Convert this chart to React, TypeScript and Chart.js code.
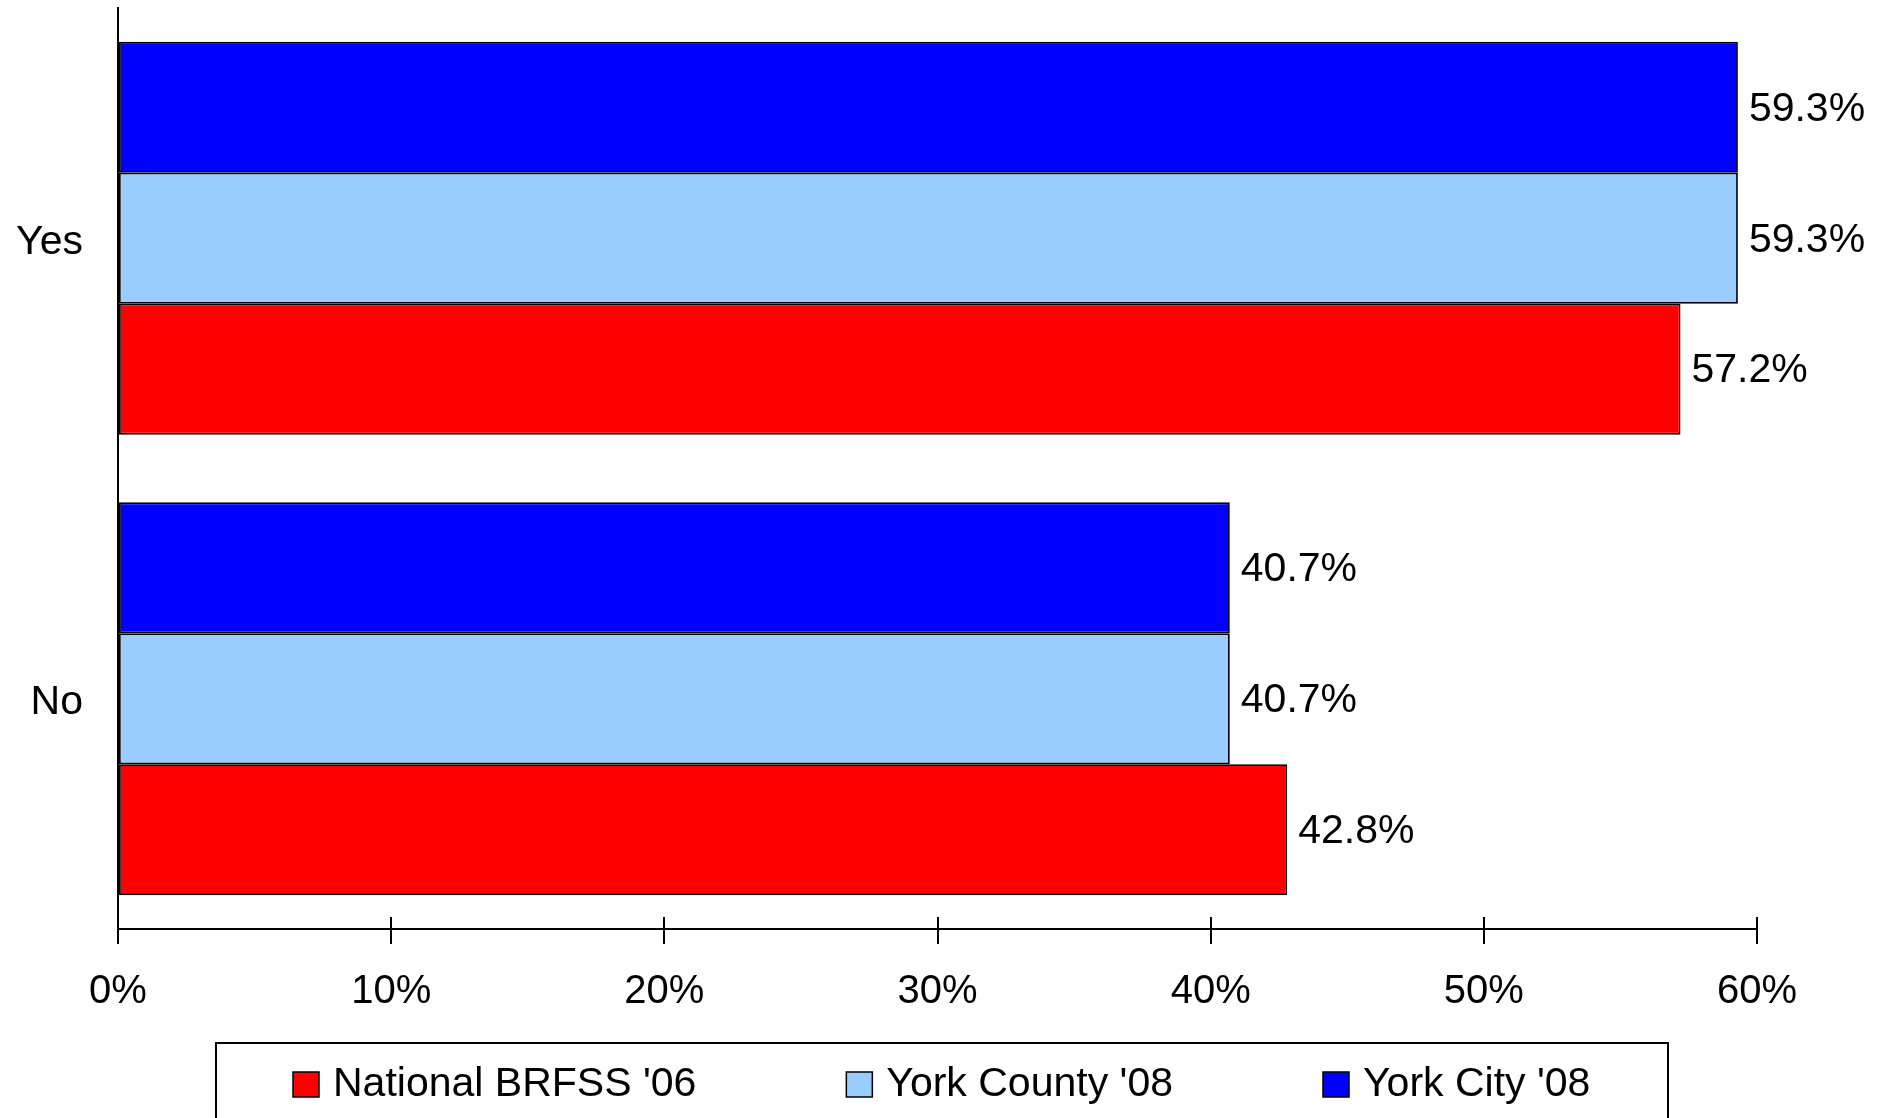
import { useEffect, useRef } from "react";
import { Chart, registerables } from "chart.js";

Chart.register(...registerables);

const categories = ["Yes", "No"];
const seriesNames = ["York City '08", "York County '08", "National BRFSS '06"];
const yorkCityValues = [59.3, 40.7];
const yorkCountyValues = [59.3, 40.7];
const nationalValues = [57.2, 42.8];
const seriesColors = ["#0000FF", "#99CCFF", "#FF0000"];
const legendOrder = [2, 1, 0];
const xMin = 0;
const xMax = 60;
const xStep = 10;

const FONT = "'Liberation Sans', Arial, sans-serif";

const valueLabelPlugin = {
  id: "valueLabels",
  afterDatasetsDraw(chart: any) {
    const ctx = chart.ctx;
    ctx.save();
    ctx.font = `41px ${FONT}`;
    ctx.fillStyle = "#000";
    ctx.textAlign = "left";
    ctx.textBaseline = "middle";
    chart.data.datasets.forEach((ds: any, di: number) => {
      const meta = chart.getDatasetMeta(di);
      meta.data.forEach((el: any, i: number) => {
        const v = ds.data[i] as number;
        ctx.fillText(v.toFixed(1) + "%", el.x + 11, el.y + 2);
      });
    });
    ctx.restore();
  },
};

const crossTickPlugin = {
  id: "crossTicks",
  afterDraw(chart: any) {
    const ctx = chart.ctx;
    const xs = chart.scales.x;
    const yBottom = chart.chartArea.bottom;
    ctx.save();
    ctx.strokeStyle = "#000";
    ctx.lineWidth = 2;
    xs.ticks.forEach((t: any) => {
      const px = Math.round(xs.getPixelForValue(t.value));
      ctx.beginPath();
      ctx.moveTo(px, yBottom);
      ctx.lineTo(px, yBottom - 12);
      ctx.stroke();
    });
    ctx.restore();
  },
};

const legendPlugin = {
  id: "boxLegend",
  afterDraw(chart: any) {
    const ctx = chart.ctx;
    ctx.save();
    ctx.strokeStyle = "#000";
    ctx.lineWidth = 2;
    ctx.strokeRect(216, 1043, 1452, 120);
    ctx.font = `41px ${FONT}`;
    ctx.textBaseline = "middle";
    ctx.textAlign = "left";
    let x = 293;
    legendOrder.forEach((di) => {
      const ds = chart.data.datasets[di];
      ctx.fillStyle = ds.backgroundColor;
      ctx.fillRect(x, 1072, 26, 25);
      ctx.lineWidth = 1.5;
      ctx.strokeRect(x, 1072, 26, 25);
      ctx.fillStyle = "#000";
      const label = ds.label as string;
      ctx.fillText(label, x + 40, 1085);
      x += 40 + ctx.measureText(label).width + 150;
    });
    ctx.restore();
  },
};

export default function App() {
  const ref = useRef<HTMLCanvasElement | null>(null);

  useEffect(() => {
    if (!ref.current) return;
    const seriesData = [yorkCityValues, yorkCountyValues, nationalValues];
    const chart = new Chart(ref.current, {
      type: "bar",
      data: {
        labels: categories,
        datasets: seriesNames.map((name, i) => ({
          label: name,
          data: seriesData[i],
          backgroundColor: seriesColors[i],
          borderColor: "#000",
          borderWidth: 1.8,
          borderSkipped: false,
          categoryPercentage: 0.853,
          barPercentage: 1,
        })),
      },
      options: {
        indexAxis: "y",
        animation: false,
        responsive: true,
        maintainAspectRatio: false,
        layout: { padding: { top: 8, left: 0, right: 134, bottom: 0 } },
        plugins: {
          legend: { display: false },
          tooltip: { enabled: false },
        },
        scales: {
          x: {
            type: "linear",
            min: xMin,
            max: xMax,
            afterFit: (s: any) => {
              s.height = 189;
            },
            ticks: {
              stepSize: xStep,
              color: "#000",
              padding: 24,
              font: { family: FONT, size: 40 },
              callback: (v: any) => v + "%",
            },
            grid: {
              display: true,
              drawOnChartArea: false,
              drawTicks: true,
              tickLength: 15,
              color: "#000",
              lineWidth: 2,
            },
            border: { display: true, color: "#000", width: 2 },
          },
          y: {
            type: "category",
            afterFit: (s: any) => {
              s.width = 118;
              s.paddingTop = 0;
              s.paddingBottom = 0;
            },
            ticks: {
              color: "#000",
              padding: 35,
              labelOffset: 4,
              font: { family: FONT, size: 41 },
            },
            grid: { display: false, drawTicks: false },
            border: { display: true, color: "#000", width: 2 },
          },
        },
      },
      plugins: [valueLabelPlugin, crossTickPlugin, legendPlugin],
    });
    return () => chart.destroy();
  }, []);

  return (
    <div
      style={{
        position: "fixed",
        left: 0,
        top: 0,
        width: 1891,
        height: 1118,
        background: "#fff",
      }}
    >
      <canvas ref={ref} />
    </div>
  );
}
